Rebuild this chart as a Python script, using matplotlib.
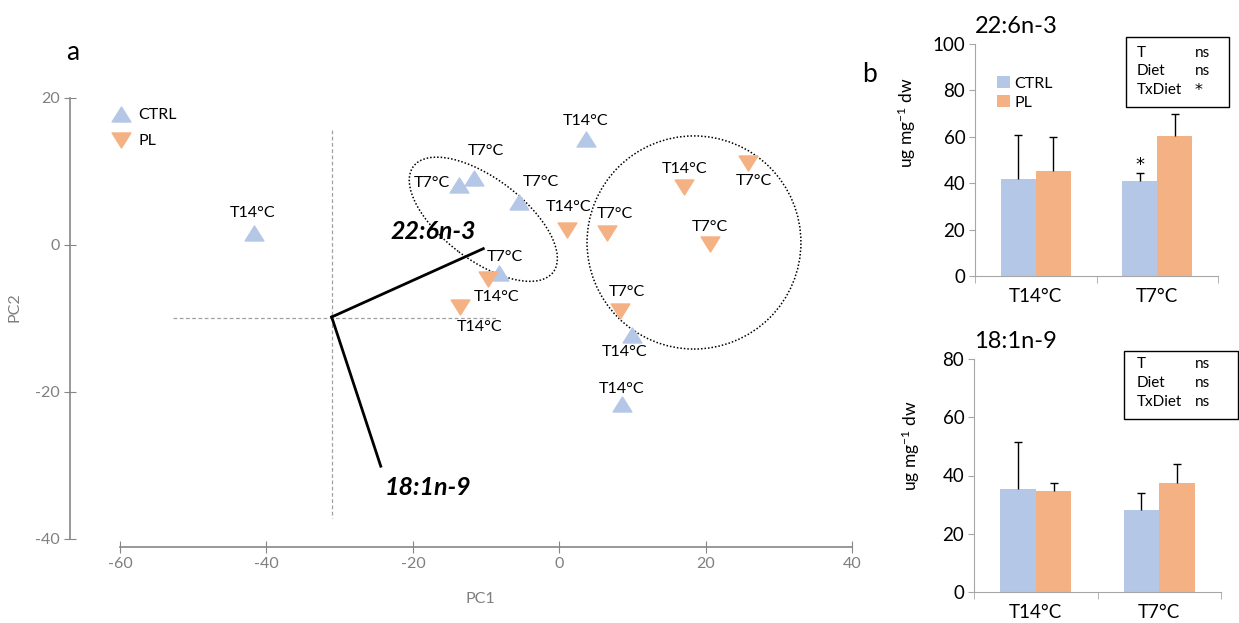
import numpy as np
import matplotlib.pyplot as plt
from matplotlib.patches import Ellipse, Rectangle
from matplotlib.path import Path

plt.rcParams['font.family'] = ['Lato', 'DejaVu Sans']
plt.rcParams['mathtext.fontset'] = 'custom'
plt.rcParams['mathtext.rm'] = 'Lato'
plt.rcParams['mathtext.default'] = 'regular'
plt.rcParams['axes.unicode_minus'] = False

# ---- panel a: PCA scores ----
ctrl_pc1 = [-41.7, 3.6, -13.7, -11.7, -5.5, -8.3, 9.9, 8.5]
ctrl_pc2 = [1.6, 14.4, 8.2, 9.1, 5.9, -3.8, -12.2, -21.6]
ctrl_temp = ['T14°C', 'T14°C', 'T7°C', 'T7°C', 'T7°C', 'T7°C', 'T14°C', 'T14°C']

pl_pc1 = [-9.8, -13.6, 1.0, 6.5, 17.0, 25.7, 20.5, 8.3]
pl_pc2 = [-4.6, -8.4, 2.0, 1.6, 7.9, 11.2, 0.1, -9.0]
pl_temp = ['T14°C', 'T14°C', 'T14°C', 'T7°C', 'T14°C', 'T7°C', 'T7°C', 'T7°C']

# loading vectors
load_origin = (-31.1, -9.8)
load_names = ['22:6n-3', '18:1n-9']
load_end_x = [-10.4, -24.4]
load_end_y = [-0.5, -30.1]

# ---- panel b: fatty acid contents (ug mg-1 dw) ----
groups = ['T14°C', 'T7°C']
dha_ctrl = [41.7, 41.0]
dha_ctrl_sd = [18.9, 3.3]
dha_pl = [45.3, 60.3]
dha_pl_sd = [14.8, 9.5]
dha_stats = [('T', 'ns'), ('Diet', 'ns'), ('TxDiet', '*')]

ole_ctrl = [35.2, 28.1]
ole_ctrl_sd = [16.4, 5.8]
ole_pl = [34.7, 37.5]
ole_pl_sd = [2.6, 6.5]
ole_stats = [('T', 'ns'), ('Diet', 'ns'), ('TxDiet', 'ns')]

blue = '#B4C7E7'
orange = '#F4B183'
W, H = 1239, 623

# label offsets in pixels (dx, dy up)
ctrl_off = [(-1, 20), (0, 18), (-27, 2), (12, 27), (22, 20), (6, 16), (-7, -17), (0, 15)]
pl_off = [(9, -18), (20, -20), (2, 23), (8, 19), (1, 18), (6, -18), (0, 17), (7, 19)]

up_tri = Path([(-1, -0.8), (1, -0.8), (0, 0.8), (-1, -0.8)],
              [Path.MOVETO, Path.LINETO, Path.LINETO, Path.CLOSEPOLY])
down_tri = Path([(-1, 0.8), (1, 0.8), (0, -0.8), (-1, 0.8)],
                [Path.MOVETO, Path.LINETO, Path.LINETO, Path.CLOSEPOLY])

fig = plt.figure(figsize=(W / 100, H / 100), dpi=100)

ax = fig.add_axes([60 / W, (H - 560) / H, 810 / W, 520 / H])
ax.set_xlim(-68.19, 42.39)
ax.set_ylim(-42.86, 27.89)

grey = '#868686'
ax.plot([-31.0, -31.0], [15.6, -37.1], color='#A0A0A0', lw=0.9, ls=(0, (3, 2)))
ax.plot([-52.8, -8.5], [-9.9, -9.9], color='#A0A0A0', lw=0.9, ls=(0, (3, 2)))

ax.add_patch(Ellipse((-10.4, 3.5), 23.9, 11.1, angle=-37, fill=False,
                     ec='black', lw=1.1, ls=(0, (1, 1.3))))
ax.add_patch(Ellipse((18.36, 0.34), 29.2, 29.0, fill=False,
                     ec='black', lw=1.1, ls=(0, (1, 1.3))))

label_shift = [(-50, 17), (47, -21)]
for name, ex, ey, sh in zip(load_names, load_end_x, load_end_y, label_shift):
    ax.plot([load_origin[0], ex], [load_origin[1], ey], color='black', lw=2)
    ax.annotate(name, (ex, ey), xytext=sh, textcoords='offset pixels',
                ha='center', va='center', fontsize=18, fontweight='bold',
                fontstyle='italic')

ax.plot(ctrl_pc1, ctrl_pc2, ls='none', marker=up_tri, ms=13.5, color=blue,
        label='CTRL')
ax.plot(pl_pc1, pl_pc2, ls='none', marker=down_tri, ms=13.5, color=orange,
        label='PL')

for xs, ys, labs, offs in [(ctrl_pc1, ctrl_pc2, ctrl_temp, ctrl_off),
                           (pl_pc1, pl_pc2, pl_temp, pl_off)]:
    for x, y, lab, off in zip(xs, ys, labs, offs):
        ax.annotate(lab, (x, y), xytext=off, textcoords='offset pixels',
                    ha='center', va='center', fontsize=11.5)

ax.legend(loc='upper left', bbox_to_anchor=(0.0611, 0.869), frameon=False,
          borderaxespad=0, borderpad=0, handlelength=1.4, handletextpad=0.4,
          labelspacing=0.75, fontsize=11.5)

for s in ['top', 'right']:
    ax.spines[s].set_visible(False)
ax.spines['left'].set_position(('data', -66.8))
ax.spines['left'].set_bounds(-40, 20)
ax.spines['bottom'].set_position(('data', -41.1))
ax.spines['bottom'].set_bounds(-60, 40)
for s in ['left', 'bottom']:
    ax.spines[s].set_color(grey)
    ax.spines[s].set_linewidth(1.2)
ax.set_xticks([-60, -40, -20, 0, 20, 40])
ax.set_yticks([-40, -20, 0, 20])
ax.tick_params(direction='inout', length=9, color=grey, labelcolor='#7F7F7F',
               labelsize=11.5, pad=3)
ax.set_xlabel('PC1', color='#7F7F7F', fontsize=11.5)
ax.set_ylabel('PC2', color='#7F7F7F', fontsize=11.5)
ax.xaxis.set_label_coords(0.5185, -0.0615)
ax.yaxis.set_label_coords(-0.048, 0.4865)

fig.text(73 / W, 1 - 52 / H, 'a', fontsize=19, ha='center', va='center')
fig.text(870 / W, 1 - 75 / H, 'b', fontsize=19, ha='center', va='center')


def upper_errorbar(bx, xs, ys, sd):
    # error bar only above the bar, cap on top only
    _, caps, _ = bx.errorbar(xs, ys, yerr=[np.zeros(len(ys)), sd], fmt='none',
                             ecolor='black', elinewidth=1, capsize=3)
    caps[0].set_visible(False)


def bar_panel(rect, ctrl, ctrl_sd, pl, pl_sd, ymax, title, stats, box, legend):
    bx = fig.add_axes(rect)
    x = np.arange(len(groups))
    w = 0.288
    bx.bar(x - w / 2, ctrl, w, color=blue, label='CTRL')
    bx.bar(x + w / 2, pl, w, color=orange, label='PL')
    upper_errorbar(bx, x - w / 2, ctrl, ctrl_sd)
    upper_errorbar(bx, x + w / 2, pl, pl_sd)
    bx.set_xlim(-0.5, 1.5)
    bx.set_ylim(0, ymax)
    bx.set_yticks(np.arange(0, ymax + 1, 20))
    bx.set_xticks(x)
    bx.set_xticklabels(groups)
    bx.set_xticks([-0.5, 0.5, 1.5], minor=True)
    bx.tick_params(axis='x', which='major', length=0, labelsize=13.5, pad=9)
    bx.tick_params(axis='x', which='minor', length=5, color='#A6A6A6')
    bx.tick_params(axis='y', length=4, color='#A6A6A6', labelsize=13.5, pad=3)
    for s in ['top', 'right']:
        bx.spines[s].set_visible(False)
    for s in ['left', 'bottom']:
        bx.spines[s].set_color('#A6A6A6')
    bx.set_title(title, loc='left', fontsize=17, pad=8)
    bx.set_ylabel('ug mg$^{-1}$ dw', fontsize=12.5)
    x0, y0, x1, y1, tx, nx, rows = box
    bx.add_patch(Rectangle((x0, y0), x1 - x0, y1 - y0, transform=bx.transAxes,
                           fill=False, ec='black', lw=1, clip_on=False))
    for (k, v), ry in zip(stats, rows):
        bx.text(tx, ry, k, transform=bx.transAxes, ha='left', va='center',
                fontsize=11)
        if v == '*':
            bx.text(nx, ry, v, transform=bx.transAxes, ha='left', va='center',
                    fontsize=11.5, family='DejaVu Sans')
        else:
            bx.text(nx, ry, v, transform=bx.transAxes, ha='left', va='center',
                    fontsize=11)
    if legend:
        bx.legend(loc='upper left', bbox_to_anchor=(0.09, 0.86), frameon=False,
                  borderaxespad=0, borderpad=0, handlelength=0.85,
                  handleheight=0.7, handletextpad=0.25, labelspacing=0.3,
                  fontsize=11.5)
    return bx


top = bar_panel([975 / W, (H - 276) / H, 243 / W, 232 / H],
                dha_ctrl, dha_ctrl_sd, dha_pl, dha_pl_sd, 100, '22:6n-3',
                dha_stats, (0.62, 0.73, 1.047, 1.031, 0.667, 0.905,
                            [0.962, 0.884, 0.80]), True)
top.yaxis.set_label_coords(-0.235, 0.66)
top.annotate('*', (1 - 0.144, dha_ctrl[1] + dha_ctrl_sd[1]), xytext=(0, 8),
             textcoords='offset pixels', ha='center', va='center', fontsize=13,
             family='DejaVu Sans')

bot = bar_panel([974 / W, 31.3 / H, 247 / W, 232.4 / H],
                ole_ctrl, ole_ctrl_sd, ole_pl, ole_pl_sd, 80, '18:1n-9',
                ole_stats, (0.607, 0.743, 1.069, 1.037, 0.659, 0.895,
                            [0.98, 0.899, 0.818]), False)
bot.yaxis.set_label_coords(-0.21, 0.63)

fig.savefig('out.png', dpi=100)
